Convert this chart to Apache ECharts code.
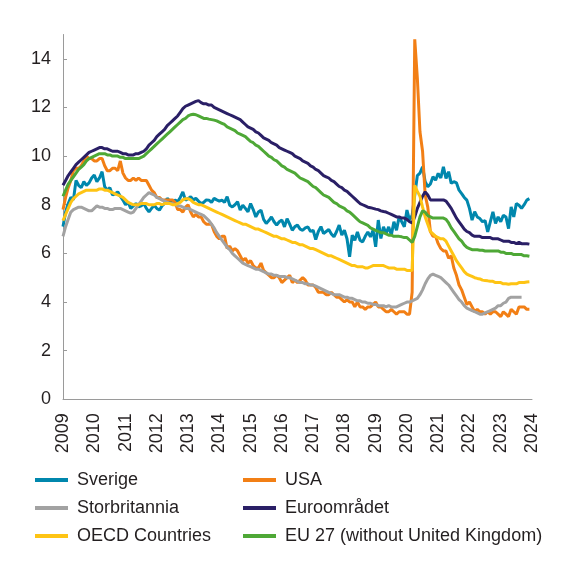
<!DOCTYPE html>
<html>
<head>
<meta charset="utf-8">
<script src="https://cdn.jsdelivr.net/npm/echarts@6/dist/echarts.min.js"></script>
<style>
html, body { margin: 0; padding: 0; background: #fff; }
#main { width: 576px; height: 568px; }
</style>
</head>
<body>
<div id="main"></div>
<script>
// monthly values, first point = January 2009
const startYear = 2009;
const yearTicks = [2009, 2010, 2011, 2012, 2013, 2014, 2015, 2016, 2017, 2018, 2019, 2020, 2021, 2022, 2023, 2024];
const yTicks = [0, 2, 4, 6, 8, 10, 12, 14];

const sverige = [
  7.1, 7.7, 8.05, 8.3, 8.2, 9.0, 8.8, 8.7, 8.95, 8.8, 8.9, 9.1,
  9.22, 8.95, 9.1, 9.36, 8.74, 8.6, 8.7, 8.4, 8.45, 8.53, 8.35, 8.19,
  8.0, 8.1, 7.85, 7.95, 8.05, 7.91, 7.95, 8.05, 7.85, 7.71, 7.85, 7.98,
  7.85, 7.78, 7.95, 8.05, 8.26, 8.15, 8.05, 8.2, 8.12, 8.3, 8.53, 8.19,
  8.25, 8.33, 8.2, 8.26, 8.15, 8.05, 8.1, 8.2, 8.19, 8.1, 8.26, 8.2,
  8.15, 8.19, 8.1, 8.33, 7.98, 7.91, 8.0, 8.12, 7.78, 7.98, 7.85, 7.71,
  8.05, 7.8, 7.5, 7.7, 7.78, 7.4, 7.23, 7.35, 7.5, 7.3, 7.16, 7.3,
  7.37, 7.09, 7.43, 7.2, 6.95, 7.1, 7.16, 7.0, 6.95, 7.05, 7.09, 6.9,
  6.95, 6.57, 6.9, 7.1, 6.82, 6.9, 6.98, 6.8, 6.68, 6.9, 7.16, 6.75,
  6.95, 6.6, 5.86, 6.75, 6.54, 6.88, 6.54, 6.47, 6.7, 6.88, 6.68, 6.95,
  6.27, 7.37, 6.61, 7.09, 6.82, 7.09, 6.75, 7.3, 6.95, 7.5, 7.3, 7.09,
  7.78, 7.37, 7.57, 8.4, 9.2, 9.3, 9.56, 8.95, 8.74, 8.85, 9.15, 9.01,
  9.29, 9.1, 9.56, 9.08, 9.36, 8.88, 8.95, 8.9, 8.6, 8.46, 8.3, 8.19,
  7.85, 7.37, 7.71, 7.5, 7.43, 7.3, 7.35, 6.88, 7.3, 7.71, 7.23, 7.5,
  7.3, 7.57, 7.5, 7.02, 7.91, 7.5, 8.05, 7.98, 7.85, 8.0, 8.19, 8.25
];

const usa = [
  7.8, 8.3, 8.7, 9.0, 9.4, 9.5, 9.5, 9.6, 9.8, 10.0, 9.9, 9.9,
  9.8, 9.8, 9.9, 9.9, 9.6, 9.4, 9.4, 9.5, 9.5, 9.4, 9.8, 9.3,
  9.1, 9.0, 9.0, 9.1, 9.0, 9.1, 9.0, 9.0, 9.0, 8.8, 8.6, 8.5,
  8.3, 8.3, 8.2, 8.2, 8.2, 8.2, 8.2, 8.1, 7.8, 7.8, 7.7, 7.9,
  8.0, 7.7, 7.5, 7.6, 7.5, 7.5, 7.3, 7.2, 7.2, 7.2, 6.9, 6.7,
  6.6, 6.7, 6.7, 6.2, 6.3, 6.1, 6.2, 6.1, 5.9, 5.7, 5.8, 5.6,
  5.7, 5.5, 5.4, 5.4, 5.6, 5.3, 5.2, 5.1, 5.0, 5.0, 5.1, 5.0,
  4.8, 4.9, 5.0, 5.1, 4.8, 4.9, 4.8, 4.9, 5.0, 4.9, 4.7, 4.7,
  4.7, 4.6, 4.4, 4.4, 4.4, 4.3, 4.3, 4.4, 4.3, 4.2, 4.2, 4.1,
  4.0, 4.1, 4.0, 4.0, 3.8, 4.0, 3.8, 3.8, 3.7, 3.8, 3.8, 3.9,
  4.0, 3.8, 3.8, 3.7, 3.6, 3.6, 3.7, 3.6, 3.5, 3.6, 3.6, 3.6,
  3.5, 3.5, 4.4, 14.8, 13.2, 11.0, 10.2, 8.4, 7.9, 6.9, 6.7, 6.7,
  6.4, 6.2, 6.1, 6.1, 5.8, 5.9, 5.4, 5.1, 4.7, 4.5, 4.2, 3.9,
  4.0, 3.8, 3.6, 3.7, 3.6, 3.6, 3.5, 3.6, 3.5, 3.6, 3.6, 3.5,
  3.4, 3.6, 3.5, 3.4, 3.7, 3.6, 3.5, 3.8, 3.8, 3.8, 3.7, 3.7
];

const storbritannia = [
  6.7, 7.1, 7.4, 7.7, 7.8, 7.85, 7.9, 7.9, 7.85, 7.8, 7.75, 7.75,
  7.85, 7.95, 7.9, 7.9, 7.85, 7.85, 7.8, 7.8, 7.85, 7.85, 7.85, 7.8,
  7.75, 7.7, 7.65, 7.7, 7.85, 8.0, 8.15, 8.3, 8.4, 8.5, 8.45, 8.4,
  8.3, 8.25, 8.2, 8.15, 8.1, 8.05, 8.05, 8.0, 7.95, 7.95, 7.9, 7.85,
  7.85, 7.8, 7.75, 7.7, 7.65, 7.6, 7.55, 7.45, 7.35, 7.2, 7.05, 6.85,
  6.7, 6.55, 6.4, 6.25, 6.15, 6.0, 5.9, 5.8, 5.7, 5.6, 5.55, 5.5,
  5.45, 5.4, 5.35, 5.35, 5.3, 5.25, 5.2, 5.15, 5.15, 5.1, 5.1, 5.05,
  5.05, 5.05, 5.0, 5.0, 4.95, 4.9, 4.85, 4.8, 4.8, 4.75, 4.75, 4.7,
  4.7, 4.65, 4.6, 4.55, 4.5, 4.45, 4.4, 4.35, 4.3, 4.3, 4.3, 4.25,
  4.2, 4.2, 4.15, 4.15, 4.1, 4.05, 4.05, 4.0, 4.0, 3.95, 3.95, 3.9,
  3.9, 3.85, 3.85, 3.85, 3.8, 3.85, 3.8, 3.8, 3.8, 3.85, 3.9, 3.95,
  4.0, 4.0, 4.05, 4.1, 4.15, 4.3, 4.5, 4.75, 4.95, 5.1, 5.15, 5.1,
  5.05, 5.0, 4.9, 4.8, 4.7, 4.55, 4.4, 4.25, 4.1, 4.0, 3.85, 3.75,
  3.7, 3.65, 3.6, 3.55, 3.5, 3.5, 3.55, 3.6, 3.65, 3.7, 3.75, 3.85,
  3.85, 3.95, 4.0, 4.15, 4.2, 4.2, 4.2, 4.2, 4.2
];

const euroomradet = [
  8.8, 9.0, 9.2, 9.35, 9.5, 9.65, 9.75, 9.85, 9.95, 10.05, 10.15, 10.2,
  10.25, 10.3, 10.35, 10.35, 10.3, 10.3, 10.25, 10.2, 10.2, 10.2, 10.15, 10.1,
  10.1, 10.05, 10.05, 10.05, 10.1, 10.1, 10.15, 10.2, 10.3, 10.45, 10.55, 10.65,
  10.8, 10.9, 11.0, 11.1, 11.25, 11.35, 11.45, 11.55, 11.65, 11.8, 11.95, 12.05,
  12.1, 12.15, 12.2, 12.25, 12.28, 12.2, 12.15, 12.15, 12.1, 12.1, 12.0, 11.95,
  11.9, 11.85, 11.8, 11.75, 11.7, 11.65, 11.6, 11.55, 11.5, 11.4, 11.3, 11.2,
  11.15, 11.1, 11.0, 10.95, 10.85, 10.75, 10.7, 10.65, 10.55, 10.5, 10.45, 10.35,
  10.3, 10.25, 10.2, 10.15, 10.1, 10.0, 9.95, 9.9, 9.8, 9.75, 9.7, 9.6,
  9.55, 9.45, 9.4, 9.3, 9.2, 9.15, 9.1, 9.0, 8.95, 8.85, 8.75, 8.7,
  8.6, 8.55, 8.45, 8.35, 8.25, 8.15, 8.05, 8.0, 7.95, 7.9, 7.88, 7.85,
  7.82, 7.8, 7.75, 7.72, 7.7, 7.65, 7.6, 7.55, 7.5, 7.5, 7.45, 7.45,
  7.4, 7.3, 7.25, 7.5, 7.85, 8.1, 8.35, 8.53, 8.4, 8.2, 8.2, 8.2,
  8.2, 8.2, 8.2, 8.15, 8.0, 7.85, 7.65, 7.45, 7.3, 7.15, 7.0, 6.9,
  6.85, 6.75, 6.7, 6.7, 6.7, 6.65, 6.65, 6.65, 6.65, 6.6, 6.6, 6.6,
  6.55, 6.5, 6.5, 6.5, 6.45, 6.45, 6.4, 6.45, 6.4, 6.4, 6.4, 6.38
];

const oecd = [
  7.35, 7.6, 7.85, 8.1, 8.25, 8.35, 8.45, 8.5, 8.55, 8.6, 8.6, 8.6,
  8.6, 8.6, 8.65, 8.65, 8.6, 8.6, 8.55, 8.5, 8.45, 8.4, 8.35, 8.3,
  8.2, 8.1, 8.05, 8.0, 8.0, 8.0, 8.05, 8.05, 8.05, 8.0, 8.0, 8.0,
  8.05, 8.05, 8.0, 8.05, 8.05, 8.05, 8.0, 8.0, 8.05, 8.1, 8.2, 8.25,
  8.25, 8.2, 8.1, 8.05, 8.0, 8.0, 7.95, 7.9, 7.85, 7.8, 7.75, 7.7,
  7.65, 7.6, 7.55, 7.5, 7.45, 7.4, 7.35, 7.3, 7.25, 7.2, 7.2, 7.15,
  7.1, 7.05, 7.0, 7.0, 6.95, 6.9, 6.85, 6.8, 6.75, 6.7, 6.7, 6.65,
  6.6, 6.6, 6.55, 6.5, 6.45, 6.45, 6.4, 6.35, 6.35, 6.3, 6.25, 6.2,
  6.2, 6.15, 6.1, 6.05, 6.0, 5.95, 5.9, 5.9, 5.85, 5.8, 5.75, 5.7,
  5.65, 5.6, 5.55, 5.5, 5.5, 5.45, 5.45, 5.45, 5.4, 5.4, 5.45, 5.5,
  5.5, 5.5, 5.5, 5.5, 5.45, 5.4, 5.4, 5.4, 5.35, 5.35, 5.35, 5.35,
  5.3, 5.3, 5.3, 8.8, 8.55, 8.35, 7.9, 7.5, 7.2, 6.9, 6.8, 6.7,
  6.65, 6.6, 6.6, 6.5, 6.3, 6.1, 5.9, 5.7, 5.55, 5.4, 5.25, 5.15,
  5.1, 5.05, 5.0, 4.97, 4.95, 4.9, 4.88, 4.87, 4.85, 4.85, 4.8, 4.8,
  4.8, 4.75, 4.75, 4.73, 4.75, 4.75, 4.75, 4.8, 4.8, 4.8, 4.82, 4.83
];

const eu27 = [
  8.35, 8.6, 8.85, 9.0, 9.15, 9.3, 9.45, 9.55, 9.65, 9.8, 9.9, 9.95,
  10.0, 10.05, 10.1, 10.1, 10.1, 10.05, 10.05, 10.0, 10.0, 10.0, 9.95, 9.95,
  9.9, 9.9, 9.9, 9.9, 9.9, 9.9, 9.95, 10.0, 10.1, 10.2, 10.3, 10.4,
  10.5, 10.6, 10.7, 10.8, 10.9, 11.0, 11.1, 11.2, 11.3, 11.4, 11.5, 11.55,
  11.65, 11.7, 11.72, 11.7, 11.65, 11.6, 11.55, 11.55, 11.52, 11.5, 11.48, 11.45,
  11.4, 11.35, 11.3, 11.2, 11.15, 11.1, 11.05, 10.95, 10.9, 10.85, 10.8, 10.7,
  10.6, 10.55, 10.45, 10.4, 10.3, 10.2, 10.1, 10.0, 9.95, 9.85, 9.8, 9.7,
  9.6, 9.55, 9.45, 9.4, 9.35, 9.3, 9.2, 9.1, 9.05, 9.0, 8.95, 8.85,
  8.75, 8.7, 8.6, 8.5, 8.4, 8.35, 8.3, 8.2, 8.1, 8.05, 7.95, 7.9,
  7.85, 7.75, 7.7, 7.6, 7.5, 7.4, 7.3, 7.25, 7.2, 7.15, 7.05, 7.0,
  6.95, 6.9, 6.85, 6.85, 6.8, 6.75, 6.75, 6.7, 6.7, 6.7, 6.68, 6.65,
  6.65, 6.55, 6.45, 6.7, 7.1, 7.5, 7.75, 7.7, 7.55, 7.5, 7.45, 7.45,
  7.45, 7.45, 7.45, 7.4, 7.25, 7.05, 6.9, 6.75, 6.6, 6.5, 6.35, 6.25,
  6.2, 6.15, 6.15, 6.15, 6.13, 6.13, 6.1, 6.1, 6.1, 6.1, 6.1, 6.1,
  6.05, 6.05, 6.0, 6.0, 6.0, 5.95, 5.95, 5.95, 5.95, 5.9, 5.9, 5.88
];

const seriesNames = ['Sverige', 'USA', 'Storbritannia', 'Euroområdet', 'OECD Countries', 'EU 27 (without United Kingdom)'];
const seriesData = [sverige, usa, storbritannia, euroomradet, oecd, eu27];
const seriesColors = ['#0087ad', '#f27f15', '#a2a2a2', '#2a1f66', '#fec414', '#4ea836'];

const fontFamily = "'Liberation Sans', Arial, sans-serif";
const textColor = '#231f20';

function monthly(values) {
    return values.map((v, i) => [startYear + i / 12, v]);
}

const chart = echarts.init(document.getElementById('main'));

const legendBase = {
    orient: 'vertical',
    top: 470,
    padding: 0,
    icon: 'rect',
    itemWidth: 33,
    itemHeight: 4,
    itemGap: 8,
    textStyle: { fontSize: 18, color: textColor, fontFamily: fontFamily, lineHeight: 20, padding: [0, 0, 0, 4] }
};

chart.setOption({
    animation: false,
    backgroundColor: '#fff',
    grid: { left: 63, right: 44, top: 34.5, bottom: 168.7, containLabel: false },
    legend: [
        Object.assign({}, legendBase, { left: 35, data: [seriesNames[0], seriesNames[2], seriesNames[4]] }),
        Object.assign({}, legendBase, { left: 243, data: [seriesNames[1], seriesNames[3], seriesNames[5]] })
    ],
    xAxis: {
        type: 'value',
        min: yearTicks[0],
        max: yearTicks[yearTicks.length - 1],
        interval: 1,
        splitLine: { show: false },
        axisTick: { show: false },
        axisLine: { lineStyle: { color: '#9a9a9a', width: 1 } },
        axisLabel: {
            rotate: 90,
            margin: 14,
            fontSize: 18,
            color: textColor,
            fontFamily: fontFamily,
            formatter: v => String(v)
        }
    },
    yAxis: {
        type: 'value',
        min: 0,
        max: 15,
        splitLine: { show: false },
        axisLine: { show: true, lineStyle: { color: '#9a9a9a', width: 1 } },
        axisTick: { show: true, inside: true, length: 4, customValues: yTicks, lineStyle: { color: '#9a9a9a' } },
        axisLabel: {
            customValues: yTicks,
            margin: 12,
            fontSize: 18,
            color: textColor,
            fontFamily: fontFamily
        }
    },
    series: seriesNames.map((name, k) => ({
        name: name,
        type: 'line',
        data: monthly(seriesData[k]),
        showSymbol: false,
        symbol: 'none',
        color: seriesColors[k],
        lineStyle: { width: 3, color: seriesColors[k] }
    }))
});
</script>
</body>
</html>
